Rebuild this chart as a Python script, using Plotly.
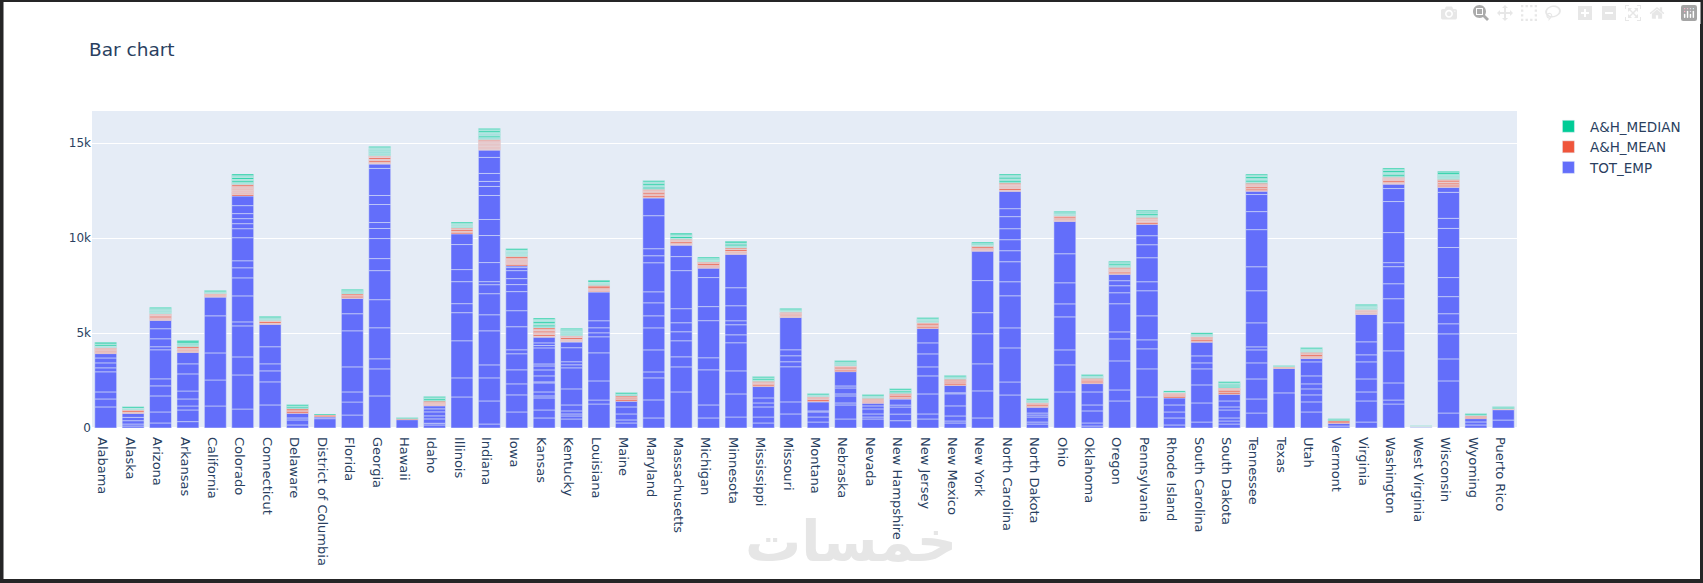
import plotly.graph_objs as go

# One entry per state, each state holds several rows that stack up
states = ['Alabama', 'Alaska', 'Arizona', 'Arkansas', 'California', 'Colorado', 'Connecticut',
          'Delaware', 'District of Columbia', 'Florida', 'Georgia', 'Hawaii', 'Idaho', 'Illinois',
          'Indiana', 'Iowa', 'Kansas', 'Kentucky', 'Louisiana', 'Maine', 'Maryland', 'Massachusetts',
          'Michigan', 'Minnesota', 'Mississippi', 'Missouri', 'Montana', 'Nebraska', 'Nevada',
          'New Hampshire', 'New Jersey', 'New Mexico', 'New York', 'North Carolina', 'North Dakota',
          'Ohio', 'Oklahoma', 'Oregon', 'Pennsylvania', 'Rhode Island', 'South Carolina',
          'South Dakota', 'Tennessee', 'Texas', 'Utah', 'Vermont', 'Virginia', 'Washington',
          'West Virginia', 'Wisconsin', 'Wyoming', 'Puerto Rico']

tot_emp = [
    [1110, 420, 370, 1060, 210, 260, 260, 230],
    [105, 105, 175, 175, 210],
    [265, 580, 845, 530, 370, 1530, 160, 420, 530, 440],
    [335, 615, 210, 370, 420, 900, 530, 600],
    [1160, 1370, 1425, 1955, 985],
    [1000, 1795, 950, 1635, 210, 1370, 950, 530, 370, 1215, 475, 265, 265, 265, 420, 510],
    [1215, 1215, 580, 370, 900, 1180],
    [160, 265, 105, 245],
    [490, 90],
    [685, 685, 530, 1320, 1900, 900, 810],
    [1690, 1425, 530, 1635, 1480, 1530, 635, 1055, 530, 315, 950, 475, 1425, 230],
    [440],
    [160, 90, 230, 160, 210, 160, 160],
    [1635, 1005, 1955, 1480, 475, 1160, 635, 1320, 565],
    [210, 1215, 1215, 685, 1795, 845, 1110, 475, 160, 1005, 1425, 845, 1265, 475, 265, 420, 845, 385],
    [845, 900, 580, 740, 845, 210, 1215, 845, 1005, 370, 315, 420, 160, 90],
    [530, 420, 635, 105, 210, 475, 55, 315, 315, 210, 105, 845, 125, 140, 300],
    [475, 160, 105, 160, 315, 845, 1110, 160, 160, 740, 300],
    [1265, 210, 1005, 1480, 845, 210, 265, 370, 1515],
    [265, 160, 315, 370, 300],
    [530, 950, 1160, 315, 1160, 1160, 635, 685, 580, 1530, 370, 370, 1740, 935],
    [1900, 1320, 530, 845, 475, 475, 740, 2005, 740, 600],
    [530, 685, 1850, 635, 1955, 740, 1530, 495],
    [580, 1215, 1215, 1480, 420, 530, 210, 790, 950, 1760],
    [265, 315, 530, 210, 265, 600],
    [740, 635, 1850, 265, 315, 315, 1705],
    [315, 265, 265, 55, 475],
    [475, 740, 105, 370, 105, 315, 105, 755],
    [475, 105, 160, 265, 160, 140],
    [385, 350, 370, 105, 315],
    [475, 265, 1055, 950, 475, 685, 580, 755],
    [265, 105, 265, 530, 635, 55, 385],
    [530, 1425, 1425, 1585, 1110, 1690, 1550],
    [1740, 685, 1795, 1055, 1690, 740, 1055, 580, 580, 580, 635, 420, 915],
    [210, 105, 265, 105, 105, 300],
    [1900, 1425, 790, 1740, 685, 1110, 1530, 1705],
    [105, 160, 635, 315, 685, 440],
    [1425, 580, 1530, 1160, 370, 1480, 580, 370, 265, 335],
    [1635, 1480, 1055, 475, 1265, 1320, 475, 1265, 685, 475, 600],
    [160, 370, 315, 370, 370],
    [315, 1005, 950, 845, 315, 370, 720],
    [210, 160, 160, 420, 160, 315, 350],
    [790, 740, 1055, 845, 685, 160, 1265, 1690, 1265, 1955, 950, 900, 175],
    [1850, 1285],
    [845, 530, 370, 315, 265, 420, 740, 175],
    [105, 140],
    [315, 1110, 475, 685, 900, 370, 685, 1445],
    [1265, 210, 900, 1690, 1480, 1265, 790, 900, 210, 1585, 1635, 685, 230],
    [30, 25],
    [790, 1690, 1160, 1320, 530, 530, 900, 1005, 1585, 1005, 530, 1370, 265],
    [160, 160, 175],
    [420, 545],
]

ah_mean = [
    [42, 38, 44, 36, 40, 41, 37, 39],
    [40, 36, 78, 40],
    [36, 33, 38, 35, 80, 37, 32, 36, 25],
    [42, 38, 41, 37, 40, 39, 80],
    [40, 36, 42, 38, 38],
    [80, 33, 38, 36, 34, 37, 32, 35, 39, 33, 36, 34, 37, 80, 29],
    [37, 34, 80, 35, 25],
    [80, 47, 50, 69],
    [55, 50],
    [34, 80, 35, 80],
    [31, 33, 30, 80, 29, 31, 33, 80, 28, 31, 34],
    [53],
    [37, 34, 36, 35, 33, 71],
    [80, 34, 37, 80, 36, 50],
    [32, 30, 33, 31, 29, 34, 30, 32, 31, 33, 29, 31, 32, 30, 33, 31, 62],
    [80, 35, 37, 34, 36, 39, 33, 37, 35, 38, 80, 26],
    [33, 31, 80, 34, 30, 33, 80, 31, 34, 33, 74],
    [31, 29, 32, 30, 33, 80, 30, 32, 37],
    [40, 37, 41, 38, 42, 80, 74],
    [80, 45, 50, 46, 61],
    [34, 80, 36, 33, 80, 34, 36, 33, 35, 54],
    [32, 30, 33, 80, 29, 32, 30, 51],
    [43, 40, 44, 41, 80, 43, 43],
    [36, 34, 37, 35, 33, 80, 34, 63],
    [80, 38, 41, 39, 43, 41],
    [41, 38, 42, 39, 43, 40, 39],
    [42, 80, 38, 44, 40, 38],
    [80, 35, 39, 80, 36, 30],
    [45, 42, 46, 43, 44, 44],
    [44, 41, 80, 43, 48, 44],
    [80, 38, 41, 80, 42, 36],
    [80, 46, 50, 47, 56, 55],
    [38, 36, 39, 37, 80, 34],
    [33, 31, 80, 35, 30, 33, 34, 31, 33, 32, 60],
    [42, 80, 40, 40, 44],
    [38, 36, 39, 37, 80, 35, 35],
    [48, 80, 46, 47, 61],
    [38, 80, 35, 37, 38, 34, 38, 70],
    [80, 33, 35, 32, 36, 33, 34, 44, 43],
    [80, 51, 55, 40, 38],
    [44, 80, 42, 43, 46, 45],
    [80, 46, 80, 47, 41, 40],
    [33, 80, 32, 80, 30, 33, 34, 31, 69],
    [46, 42],
    [42, 40, 43, 80, 40, 45, 44],
    [73, 67],
    [34, 32, 35, 33, 34, 31, 33, 32],
    [33, 31, 34, 80, 30, 33, 34, 31, 33, 33],
    [18, 17],
    [33, 80, 32, 80, 30, 33, 80, 54],
    [54, 51, 53],
    [28, 25],
]

ah_median = [
    [31, 28, 30, 80, 29, 80],
    [30, 34, 28, 66],
    [34, 31, 35, 33, 32, 36, 30, 38, 65],
    [41, 38, 42, 37, 80, 79],
    [33, 30, 30, 65],
    [33, 31, 36, 80, 35, 30, 33, 80, 34, 32, 35, 80],
    [36, 34, 37, 35, 69],
    [44, 80, 22, 65],
    [53],
    [37, 34, 38, 35, 37, 65],
    [37, 35, 38, 36, 39, 34, 37, 35, 38, 36, 34, 26, 65],
    [53],
    [37, 80, 36, 28, 65],
    [34, 32, 35, 33, 31, 35, 35, 65],
    [33, 31, 34, 80, 35, 31, 33, 32, 34, 30, 80, 32, 30, 65],
    [31, 29, 32, 30, 28, 33, 29, 31, 30, 32, 28, 69],
    [33, 31, 80, 34, 30, 33, 80, 31, 34, 30, 32, 65],
    [36, 34, 37, 35, 33, 36, 34, 38, 39, 65],
    [30, 28, 31, 29, 32, 27, 87],
    [36, 34, 37, 69],
    [33, 80, 32, 34, 30, 80, 32, 34, 38, 65],
    [32, 30, 80, 31, 34, 29, 81],
    [32, 30, 33, 31, 55, 65],
    [34, 32, 35, 80, 34, 36, 83],
    [36, 34, 80, 31, 65],
    [28, 26, 29, 46, 65],
    [33, 30, 30, 65],
    [36, 34, 37, 35, 33, 42, 65],
    [33, 31, 34, 31, 65],
    [42, 80, 30, 29, 65],
    [34, 32, 35, 33, 33, 32, 65],
    [29, 26, 30, 44, 65],
    [31, 29, 32, 54, 65],
    [37, 80, 36, 39, 34, 80, 38, 35, 31, 65],
    [36, 34, 38, 38, 65],
    [29, 27, 30, 40, 38, 65],
    [33, 31, 33, 32, 65],
    [32, 30, 33, 80, 30, 47, 65],
    [34, 33, 35, 80, 33, 34, 56, 65],
    [22, 18, 65],
    [28, 26, 38, 37, 65],
    [49, 46, 50, 47, 48, 29, 65],
    [37, 35, 80, 39, 34, 37, 80, 35, 33, 65],
    [37, 33],
    [31, 29, 32, 30, 30, 29, 65],
    [55, 50],
    [34, 32, 35, 33, 34, 31, 65],
    [37, 80, 36, 39, 34, 37, 80, 35, 32, 65],
    [18, 17],
    [34, 32, 36, 33, 35, 32, 34, 35, 80, 69],
    [40, 65],
    [55, 50],
]

# Long format, same as a dataframe with one line per row
def long_x(rows):
    return [s for s, r in zip(states, rows) for _ in r]

def long_y(rows):
    return [v for r in rows for v in r]

fig = go.Figure()
for name, rows, color in [('TOT_EMP', tot_emp, '#636efa'),
                          ('A&H_MEAN', ah_mean, '#EF553B'),
                          ('A&H_MEDIAN', ah_median, '#00cc96')]:
    fig.add_trace(go.Bar(name=name, x=long_x(rows), y=long_y(rows), marker_color=color, legendgroup=name))

W, H = 1703, 583
L, R, T, B = 92, 186, 111, 155
FONT = 'DejaVu Sans'

# Dark window frame round the page
def px_rect(x0, y0, x1, y1):
    pw, ph = W - L - R, H - T - B
    return dict(type='rect', xref='paper', yref='paper', layer='above', line_width=0,
                fillcolor='#252526',
                x0=(x0 - L) / pw, x1=(x1 - L) / pw,
                y0=1 - (y0 - T) / ph, y1=1 - (y1 - T) / ph)

fig.update_layout(
    title=dict(text='Bar chart', x=89 / W, xanchor='left', y=1 - 50 / H, yanchor='middle',
               font=dict(size=18.5)),
    font=dict(family=FONT),
    width=W,
    height=H,
    margin=dict(l=L, r=R, t=T, b=B),
    barmode='relative',
    bargap=0.2,
    xaxis=dict(tickangle=90, tickfont=dict(size=13), automargin=False, type='category',
               categoryorder='array', categoryarray=states, ticklabelstandoff=8, ticklabelshift=-3),
    yaxis=dict(range=[0, 16700], tickvals=[0, 5000, 10000, 15000], ticktext=['0', '5k', '10k', '15k'],
               tickfont=dict(size=12), automargin=False),
    legend=dict(x=1.021, y=1, traceorder='reversed', font=dict(size=13.5), itemwidth=33, tracegroupgap=2),
    modebar=dict(color='rgba(68,68,68,0.13)', activecolor='rgba(68,68,68,0.45)'),
    shapes=[px_rect(0, 0, W, 2), px_rect(0, 579, W, H), px_rect(0, 0, 3.5, H), px_rect(1700, 0, W, H)],
    annotations=[dict(text='<b>خمسات</b>', xref='paper', yref='paper', showarrow=False,
                      x=(851 - L) / (W - L - R), y=1 - (576 - T) / (H - T - B),
                      font=dict(size=56, color='#e6e6e6', family=FONT))],
)

page_css = ("document.body.style.margin='0';document.body.style.overflow='hidden';"
            "var st=document.createElement('style');"
            "st.textContent='.modebar-btn--logo{opacity:.35}';"
            "document.head.appendChild(st);")
fig.write_html('out.html', config=dict(displayModeBar=True), post_script=page_css)
